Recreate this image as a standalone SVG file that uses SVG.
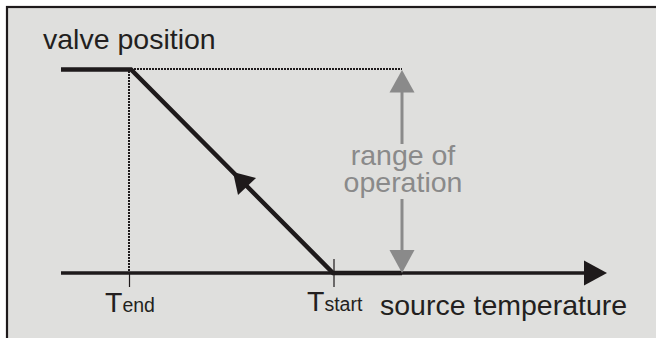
<svg xmlns="http://www.w3.org/2000/svg" width="656" height="338" viewBox="0 0 656 338">
  <style>
    .txt { font-family: "Liberation Sans", Arial, sans-serif; fill: #231f20; }
    .big { font-size: 28.5px; }
    .sub { font-size: 19.5px; }
    .grey { fill: #8a8a8a; }
    .dark { stroke: #1e1a1b; fill: none; }
    .dot { stroke: #1e1a1b; stroke-width: 2; stroke-dasharray: 2 1; fill: none; }
    .gline { stroke: #8a8a8a; stroke-width: 3; fill: none; }
  </style>
  <rect x="0" y="0" width="656" height="338" fill="#ffffff"/>
  <rect x="7" y="7" width="660" height="340" fill="#dfdfdd" stroke="#1e1a1b" stroke-width="2.2"/>

  <g id="connectors">
    <!-- dotted guides -->
    <line class="dot" x1="131" y1="69" x2="402" y2="69"/>
    <line class="dot" x1="129" y1="71" x2="129" y2="272"/>
    <!-- ticks -->
    <line class="dark" stroke-width="1.2" x1="129.5" y1="272" x2="129.5" y2="287"/>
    <line class="dark" stroke-width="1.2" x1="334" y1="259" x2="334" y2="287"/>
    <!-- horizontal axis -->
    <line class="dark" stroke-width="3.5" x1="61" y1="273" x2="586" y2="273"/>
    <polygon points="584,260.5 607,273 584,285.5" fill="#1e1a1b"/>
    <!-- valve curve -->
    <polyline class="dark" stroke-width="4.5" stroke-linejoin="miter" points="61,69.5 131,69.5 333,273 402,273"/>
    <polygon points="233,172 238,195 256,178" fill="#1e1a1b"/>
    <!-- grey range arrow -->
    <line class="gline" x1="402" y1="90" x2="402" y2="144"/>
    <line class="gline" x1="402" y1="199" x2="402" y2="252"/>
    <polygon points="402,70 389.5,92.5 414.5,92.5" fill="#8a8a8a"/>
    <polygon points="402,273 389.5,250 414.5,250" fill="#8a8a8a"/>
  </g>

  <g id="label-valve-position">
    <text class="txt big" x="43" y="48.5">valve position</text>
  </g>
  <g id="label-range">
    <text class="txt big grey" text-anchor="middle"><tspan x="403" y="165">range of</tspan><tspan x="403" y="192">operation</tspan></text>
  </g>
  <g id="label-tend">
    <text class="txt" x="105" y="311.5"><tspan class="big">T</tspan><tspan class="sub">end</tspan></text>
  </g>
  <g id="label-tstart">
    <text class="txt" x="307" y="311"><tspan class="big">T</tspan><tspan class="sub">start</tspan></text>
  </g>
  <g id="label-source-temperature">
    <text class="txt big" x="380" y="315">source temperature</text>
  </g>
</svg>
